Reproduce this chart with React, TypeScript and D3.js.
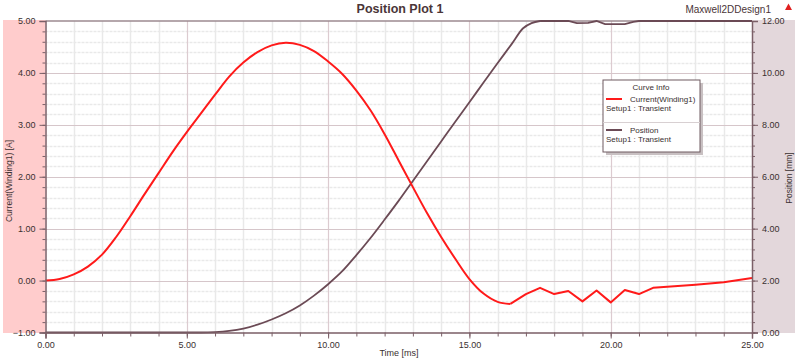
import React, { useEffect, useRef } from 'react';
import * as d3 from 'd3';

// Current(Winding1) [A] vs time [ms]
const currentTime = [0, 0.5, 1, 1.5, 2, 2.5, 3, 3.5, 4, 4.5, 5, 5.5, 6, 6.5, 7, 7.5, 8, 8.5, 9, 9.5, 10, 10.5, 11, 11.5, 12, 12.5, 13, 13.5, 14, 14.5, 15, 15.5, 16, 16.45, 17, 17.5, 18, 18.5, 19, 19.5, 20, 20.5, 21, 21.5, 22, 23, 24, 25];
const currentValues = [0, 0.03, 0.12, 0.27, 0.5, 0.84, 1.24, 1.66, 2.07, 2.48, 2.86, 3.22, 3.58, 3.93, 4.2, 4.4, 4.53, 4.58, 4.54, 4.42, 4.22, 3.98, 3.66, 3.28, 2.82, 2.31, 1.8, 1.3, 0.84, 0.42, 0.03, -0.25, -0.41, -0.45, -0.26, -0.14, -0.26, -0.2, -0.4, -0.19, -0.42, -0.18, -0.26, -0.14, -0.12, -0.08, -0.03, 0.05];

// Position [mm] vs time [ms]
const positionTime = [0, 5.5, 6, 6.5, 7, 7.5, 8, 8.5, 9, 9.5, 10, 10.5, 11, 11.5, 12, 12.5, 13, 13.5, 14, 14.5, 15, 15.5, 16, 16.5, 16.9, 17.2, 17.5, 18.5, 18.8, 19.2, 19.5, 19.8, 20.5, 20.8, 21, 25];
const positionValues = [0, 0, 0.015, 0.06, 0.15, 0.3, 0.5, 0.74, 1.04, 1.42, 1.86, 2.36, 2.98, 3.64, 4.35, 5.08, 5.84, 6.6, 7.36, 8.12, 8.87, 9.63, 10.38, 11.12, 11.72, 11.92, 12, 12, 11.92, 11.93, 12, 11.88, 11.88, 11.97, 12, 12];

const xTicks = [0, 5, 10, 15, 20, 25];
const leftTicks = [-1, 0, 1, 2, 3, 4, 5];
const rightTicks = [0, 2, 4, 6, 8, 10, 12];

const legendItems = [
  { name: 'Current(Winding1)', setup: 'Setup1 : Transient', color: '#ff1a1a' },
  { name: 'Position', setup: 'Setup1 : Transient', color: '#6b4a55' },
];

const W = 800;
const H = 361;
const FONT = '"Liberation Sans", Arial, sans-serif';

const App = () => {
  const ref = useRef<SVGSVGElement>(null);

  useEffect(() => {
    const svg = d3.select(ref.current);
    svg.selectAll('*').remove();

    const left = 45.5, right = 752, top = 21, bottom = 332.5;

    const x = d3.scaleLinear().domain([0, 25]).range([left, right]);
    const yL = d3.scaleLinear().domain([-1, 5]).range([bottom, top]);
    const yR = d3.scaleLinear().domain([0, 12]).range([bottom, top]);

    // side panels
    svg.append('rect').attr('x', 3).attr('y', 20).attr('width', left - 3).attr('height', bottom - 20 + 0.5).attr('fill', '#ffcccc');
    svg.append('rect').attr('x', right).attr('y', 20).attr('width', 795 - right).attr('height', bottom - 20 + 0.5).attr('fill', '#e3d7db');

    // plot background
    svg.append('rect').attr('x', left).attr('y', top).attr('width', right - left).attr('height', bottom - top).attr('fill', '#fff');

    const g = svg.append('g');

    // minor grid
    const minorX = d3.range(0, 25.001, 1).filter(v => v % 5 !== 0);
    const minorY = d3.range(-1, 5.001, 0.2).filter(v => Math.abs(v - Math.round(v)) > 1e-6);
    g.selectAll('.mgx').data(minorX).enter().append('line')
      .attr('x1', d => Math.round(x(d)) + 0.5).attr('x2', d => Math.round(x(d)) + 0.5)
      .attr('y1', top).attr('y2', bottom)
      .attr('stroke', '#e9e9e9').attr('stroke-width', 1.5);
    g.selectAll('.mgy').data(minorY).enter().append('line')
      .attr('x1', left).attr('x2', right)
      .attr('y1', d => Math.round(yL(d)) + 0.5).attr('y2', d => Math.round(yL(d)) + 0.5)
      .attr('stroke', '#e9e9e9').attr('stroke-width', 1.5).attr('stroke-dasharray', '3,1');

    // major grid
    g.selectAll('.gx').data(xTicks.slice(1, -1)).enter().append('line')
      .attr('x1', d => Math.round(x(d)) + 0.5).attr('x2', d => Math.round(x(d)) + 0.5)
      .attr('y1', top).attr('y2', bottom)
      .attr('stroke', '#dccbd0').attr('stroke-width', 1.2);
    g.selectAll('.gy').data(leftTicks.slice(1, -1)).enter().append('line')
      .attr('x1', left).attr('x2', right)
      .attr('y1', d => Math.round(yL(d)) + 0.5).attr('y2', d => Math.round(yL(d)) + 0.5)
      .attr('stroke', '#d6c6ca').attr('stroke-width', 1.2);

    // top frame
    g.append('line').attr('x1', left).attr('x2', right).attr('y1', top).attr('y2', top)
      .attr('stroke', '#9c8a90').attr('stroke-width', 1.5);

    // curves
    const currentData = currentTime.map((t, i) => [t, currentValues[i]] as [number, number]);
    const positionData = positionTime.map((t, i) => [t, positionValues[i]] as [number, number]);

    const smoothCurve = d3.curveCatmullRom.alpha(0.5);
    const lineL = d3.line<[number, number]>().x(d => x(d[0])).y(d => yL(d[1]));
    const lineR = d3.line<[number, number]>().x(d => x(d[0])).y(d => yR(d[1]));

    const posRise = positionData.filter(d => d[0] <= 17.5);
    const posTop = positionData.filter(d => d[0] >= 17.5);
    g.append('path').datum(posRise).attr('d', lineR.curve(d3.curveMonotoneX))
      .attr('fill', 'none').attr('stroke', legendItems[1].color).attr('stroke-width', 1.8);
    g.append('path').datum(posTop).attr('d', lineR.curve(d3.curveLinear))
      .attr('fill', 'none').attr('stroke', legendItems[1].color).attr('stroke-width', 1.8);

    const smooth = currentData.filter(d => d[0] <= 16.45);
    const zig = currentData.filter(d => d[0] >= 16.45);
    g.append('path').datum(smooth).attr('d', lineL.curve(smoothCurve))
      .attr('fill', 'none').attr('stroke', legendItems[0].color).attr('stroke-width', 2);
    g.append('path').datum(zig).attr('d', lineL.curve(d3.curveLinear))
      .attr('fill', 'none').attr('stroke', legendItems[0].color).attr('stroke-width', 2)
      .attr('stroke-linejoin', 'round');

    const axisColor = '#7b5f67';
    const textColor = '#3a3030';

    // left axis
    const axL = svg.append('g').attr('transform', `translate(${left},0)`);
    axL.call(d3.axisLeft(yL).tickValues(d3.range(-1, 5.001, 0.2)).tickSize(3).tickFormat(() => ''));
    axL.selectAll('.tick line').attr('stroke', axisColor);
    axL.select('.domain').remove();
    const axL2 = svg.append('g').attr('transform', `translate(${left},0)`);
    axL2.call(d3.axisLeft(yL).tickValues(leftTicks).tickSize(6).tickPadding(4).tickFormat(d3.format('.2f')));
    axL2.select('.domain').attr('stroke', axisColor).attr('stroke-width', 1.5);
    axL2.selectAll('.tick line').attr('stroke', axisColor);
    axL2.selectAll('text').style('font-family', FONT).style('font-size', '9px').attr('fill', textColor);

    // right axis
    const axR = svg.append('g').attr('transform', `translate(${right},0)`);
    axR.call(d3.axisRight(yR).tickValues(d3.range(0, 12.001, 0.4)).tickSize(3).tickFormat(() => ''));
    axR.selectAll('.tick line').attr('stroke', axisColor);
    axR.select('.domain').remove();
    const axR2 = svg.append('g').attr('transform', `translate(${right},0)`);
    axR2.call(d3.axisRight(yR).tickValues(rightTicks).tickSize(6).tickPadding(4).tickFormat(d3.format('.2f')));
    axR2.select('.domain').attr('stroke', axisColor).attr('stroke-width', 1.5);
    axR2.selectAll('.tick line').attr('stroke', axisColor);
    axR2.selectAll('text').style('font-family', FONT).style('font-size', '9px').attr('fill', textColor);

    // bottom axis
    const axB = svg.append('g').attr('transform', `translate(0,${bottom})`);
    axB.call(d3.axisBottom(x).tickValues(d3.range(0, 25.001, 1)).tickSize(4).tickFormat(() => ''));
    axB.selectAll('.tick line').attr('stroke', axisColor);
    axB.select('.domain').remove();
    const axB2 = svg.append('g').attr('transform', `translate(0,${bottom})`);
    axB2.call(d3.axisBottom(x).tickValues(xTicks).tickSize(6).tickPadding(3).tickFormat(d3.format('.2f')));
    axB2.select('.domain').attr('stroke', axisColor).attr('stroke-width', 1.5);
    axB2.selectAll('.tick line').attr('stroke', axisColor);
    axB2.selectAll('text').style('font-family', FONT).style('font-size', '9px').attr('fill', textColor);

    // titles and labels
    svg.append('text').attr('x', 400).attr('y', 12.5).attr('text-anchor', 'middle')
      .style('font-family', FONT).style('font-size', '12.5px').style('font-weight', 'bold')
      .attr('fill', '#4a3538').text('Position Plot 1');
    svg.append('text').attr('x', 771).attr('y', 13).attr('text-anchor', 'end')
      .style('font-family', FONT).style('font-size', '10px')
      .attr('fill', '#4a3538').text('Maxwell2DDesign1');
    svg.append('path').attr('d', 'M785,10 L788.5,3.5 L792,10 Z').attr('fill', '#e02020');
    svg.append('text').attr('x', 399).attr('y', 356).attr('text-anchor', 'middle')
      .style('font-family', FONT).style('font-size', '9px').attr('fill', textColor).text('Time [ms]');
    svg.append('text').attr('transform', `translate(12,181) rotate(-90)`).attr('text-anchor', 'middle')
      .style('font-family', FONT).style('font-size', '8.5px').attr('fill', textColor).text('Current(Winding1) [A]');
    svg.append('text').attr('transform', `translate(792,178) rotate(-90)`).attr('text-anchor', 'middle')
      .style('font-family', FONT).style('font-size', '8.5px').attr('fill', textColor).text('Position [mm]');

    // legend
    const lg = svg.append('g');
    lg.append('rect').attr('x', 606).attr('y', 83).attr('width', 97).attr('height', 72).attr('fill', '#c8c0c2');
    lg.append('rect').attr('x', 603).attr('y', 80).attr('width', 97).attr('height', 72)
      .attr('fill', '#fff').attr('stroke', '#6f5a60').attr('stroke-width', 1);
    lg.append('text').attr('x', 651).attr('y', 90).attr('text-anchor', 'middle')
      .style('font-family', FONT).style('font-size', '8px').attr('fill', textColor).text('Curve Info');
    lg.append('line').attr('x1', 603).attr('x2', 700).attr('y1', 122.5).attr('y2', 122.5).attr('stroke', '#d8d0d2');
    legendItems.forEach((it, i) => {
      const yy = 99 + i * 31;
      lg.append('line').attr('x1', 606).attr('x2', 622).attr('y1', yy).attr('y2', yy)
        .attr('stroke', it.color).attr('stroke-width', 2);
      lg.append('text').attr('x', 630).attr('y', yy + 3)
        .style('font-family', FONT).style('font-size', '8px').attr('fill', textColor).text(it.name);
      lg.append('text').attr('x', 606).attr('y', yy + 12)
        .style('font-family', FONT).style('font-size', '8px').attr('fill', textColor).text(it.setup);
    });
  }, []);

  return (
    <svg ref={ref} width={W} height={H} style={{ position: 'absolute', left: 0, top: 0, background: '#fff' }} />
  );
};

export default App;
